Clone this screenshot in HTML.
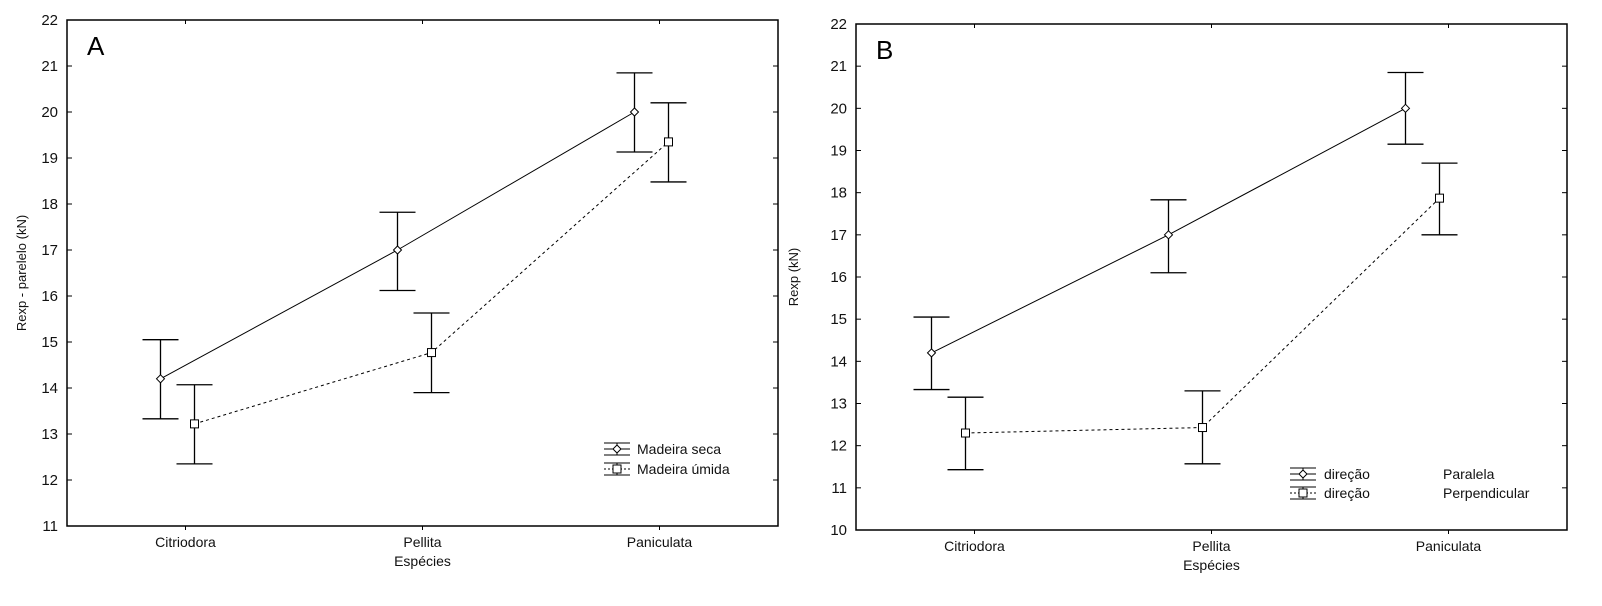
<!DOCTYPE html>
<html><head><meta charset="utf-8"><style>
body{margin:0;background:#fff}
svg{display:block;font-family:"Liberation Sans",Arial,sans-serif}
</style></head><body>
<svg id="chart" width="1602" height="606" viewBox="0 0 1602 606" xmlns="http://www.w3.org/2000/svg"></svg>
<script>
const categories = ["Citriodora","Pellita","Paniculata"];
const aSecaMean = [14.2, 17.0, 20.0];
const aSecaLow = [13.33, 16.12, 19.13];
const aSecaHigh = [15.05, 17.82, 20.85];
const aUmidaMean = [13.22, 14.77, 19.35];
const aUmidaLow = [12.35, 13.9, 18.48];
const aUmidaHigh = [14.07, 15.63, 20.2];
const aTicks = [11,12,13,14,15,16,17,18,19,20,21,22];
const bParMean = [14.2, 17.0, 20.0];
const bParLow = [13.33, 16.1, 19.15];
const bParHigh = [15.05, 17.83, 20.85];
const bPerpMean = [12.3, 12.43, 17.87];
const bPerpLow = [11.43, 11.57, 17.0];
const bPerpHigh = [13.15, 13.3, 18.7];
const bTicks = [10,11,12,13,14,15,16,17,18,19,20,21,22];

const NS="http://www.w3.org/2000/svg";
const svg=document.getElementById('chart');
function mk(tag,attrs,parent,text){const e=document.createElementNS(NS,tag);for(const k in attrs)e.setAttribute(k,attrs[k]);if(text!==undefined)e.textContent=text;(parent||svg).appendChild(e);return e;}

function panel(cfg){
  const g=mk('g',{});
  
  
  const {L,T,R,B,ymin,ymax}=cfg;
  const y=v=>B-(v-ymin)/(ymax-ymin)*(B-T);
  const x=i=>L+(R-L)*(2*i+1)/6;
  const frame=mk('rect',{x:L,y:T,width:R-L,height:B-T,fill:'none',stroke:'#000','stroke-width':1.5},g);
  
  
  cfg.ticks.forEach(t=>{
    mk('line',{x1:L,x2:L+5,y1:y(t),y2:y(t),stroke:'#000'},g);
    mk('line',{x1:R-5,x2:R,y1:y(t),y2:y(t),stroke:'#000'},g);
    const lb=mk('text',{x:L-9,y:y(t)+5,'text-anchor':'end','font-size':15,fill:'#111'},g,String(t));
    
    
  });
  categories.forEach((c,i)=>{
    mk('line',{x1:x(i),x2:x(i),y1:B,y2:B+4,stroke:'#000'},g);
    mk('line',{x1:x(i),x2:x(i),y1:T,y2:T+4,stroke:'#000'},g);
    const lb=mk('text',{x:x(i),y:B+21,'text-anchor':'middle','font-size':14,fill:'#111'},g,c);
    
    
  });
  const xt=mk('text',{x:(L+R)/2,y:B+40,'text-anchor':'middle','font-size':14,fill:'#111'},g,'Espécies');
  
  
  const yt=mk('text',{x:0,y:0,transform:`translate(${cfg.ytx},${(T+B)/2}) rotate(-90)`,'text-anchor':'middle','font-size':13,fill:'#111'},g,cfg.ytitle);
  
  
  const pl=mk('text',{x:L+20,y:T+35,'font-size':26,fill:'#000'},g,cfg.letter);
  
  
  cfg.series.forEach(s=>{
    const pts=s.mean.map((m,i)=>[x(i)+s.off,y(m)]);
    const ln=mk('polyline',{points:pts.map(p=>p.join(',')).join(' '),fill:'none',stroke:'#000','stroke-width':1,'stroke-dasharray':s.dash?'3,3':'none'},g);
    
    
    s.mean.forEach((m,i)=>{
      const cx=x(i)+s.off;
      const eb=mk('path',{d:`M${cx},${y(s.low[i])}V${y(s.high[i])}M${cx-18},${y(s.low[i])}H${cx+18}M${cx-18},${y(s.high[i])}H${cx+18}`,stroke:'#000','stroke-width':1.3,fill:'none'},g);
      
      
      let mkr;
      if(s.shape==='d') mkr=mk('path',{d:`M${cx},${y(m)-4}L${cx+4},${y(m)}L${cx},${y(m)+4}L${cx-4},${y(m)}Z`,fill:'#fff',stroke:'#000'},g);
      else mkr=mk('rect',{x:cx-4,y:y(m)-4,width:8,height:8,fill:'#fff',stroke:'#000'},g);
      
      
    });
  });
  cfg.legend.forEach((le,k)=>{
    const ly=cfg.ly+k*cfg.lstep, lx=cfg.lx;
    const lg=mk('g',{},g);
    
    
    mk('path',{d:`M${lx},${ly-6}H${lx+26}M${lx},${ly+6}H${lx+26}M${lx+13},${ly-6}V${ly+6}`,stroke:'#000',fill:'none'},lg);
    mk('line',{x1:lx,x2:lx+26,y1:ly,y2:ly,stroke:'#000','stroke-dasharray':le.dash?'2,2':'none'},lg);
    if(le.shape==='d') mk('path',{d:`M${lx+13},${ly-4}L${lx+17},${ly}L${lx+13},${ly+4}L${lx+9},${ly}Z`,fill:'#fff',stroke:'#000'},lg);
    else mk('rect',{x:lx+9,y:ly-4,width:8,height:8,fill:'#fff',stroke:'#000'},lg);
    le.texts.forEach((t,j)=>mk('text',{x:lx+cfg.tx[j],y:ly+5,'font-size':14,fill:'#111'},lg,t));
  });
}

panel({name:'panel-a',L:67,T:20,R:778,B:526,ymin:11,ymax:22,ticks:aTicks,ytx:26,ytitle:'Rexp - parelelo (kN)',letter:'A',
  series:[{name:'madeira-seca',mean:aSecaMean,low:aSecaLow,high:aSecaHigh,off:-25,shape:'d',dash:false},
          {name:'madeira-umida',mean:aUmidaMean,low:aUmidaLow,high:aUmidaHigh,off:9,shape:'s',dash:true}],
  legend:[{shape:'d',dash:false,texts:['Madeira seca']},{shape:'s',dash:true,texts:['Madeira úmida']}],
  lx:604,ly:449,lstep:20,tx:[33]});
panel({name:'panel-b',L:856,T:24,R:1567,B:530,ymin:10,ymax:22,ticks:bTicks,ytx:798,ytitle:'Rexp (kN)',letter:'B',
  series:[{name:'direcao-paralela',mean:bParMean,low:bParLow,high:bParHigh,off:-43,shape:'d',dash:false},
          {name:'direcao-perpendicular',mean:bPerpMean,low:bPerpLow,high:bPerpHigh,off:-9,shape:'s',dash:true}],
  legend:[{shape:'d',dash:false,texts:['direção','Paralela']},{shape:'s',dash:true,texts:['direção','Perpendicular']}],
  lx:1290,ly:474,lstep:19,tx:[34,153]});
</script>
</body></html>
